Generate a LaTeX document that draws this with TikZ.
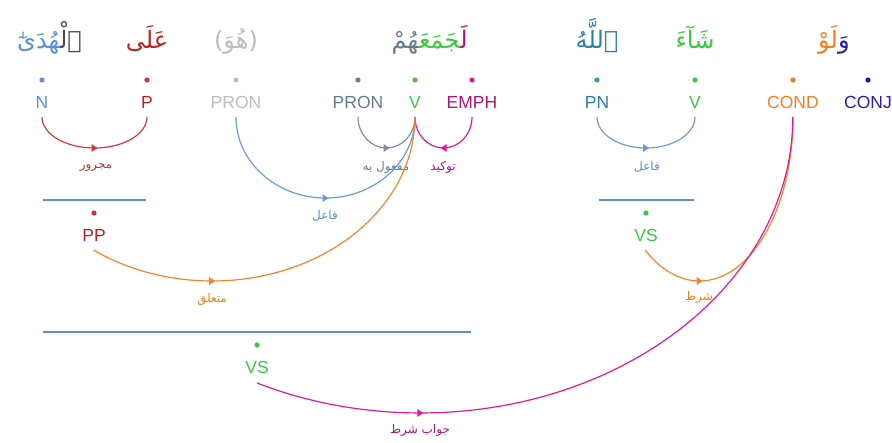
\documentclass[tikz,border=0pt]{standalone}
\usepackage{fontspec}
\setmainfont{Liberation Sans}
\newfontfamily\arabicfont[Script=Arabic]{DejaVu Sans}
\TeXXeTstate=1
\definecolor{cN}{HTML}{5B8FD6}
\definecolor{cDet}{HTML}{4D4D4D}
\definecolor{cP}{HTML}{B52424}
\definecolor{cPdot}{HTML}{D83030}
\definecolor{cPRONl}{HTML}{BDBDBD}
\definecolor{cPRON}{HTML}{667A90}
\definecolor{cV}{HTML}{3CC83C}
\definecolor{cEMPH}{HTML}{A8157E}
\definecolor{cEMPHdot}{HTML}{E0109F}
\definecolor{cPN}{HTML}{2B7FA8}
\definecolor{cPNdot}{HTML}{3399CC}
\definecolor{cCOND}{HTML}{F07F24}
\definecolor{cCONJ}{HTML}{2A1CB0}
\definecolor{cCONJdot}{HTML}{1F10D8}
\definecolor{cLine}{HTML}{5B8FDB}
\definecolor{aRed}{HTML}{D33A3A}
\definecolor{aSlate}{HTML}{7D8FA3}
\definecolor{aMag}{HTML}{E01AA0}
\definecolor{aBlue}{HTML}{6A9BE0}
\definecolor{aOrange}{HTML}{F2852C}
\definecolor{lRed}{HTML}{B03A3A}
\definecolor{lMag}{HTML}{B0127E}
\begin{document}
\begin{tikzpicture}[x=1pt,y=-1pt,
  tag/.style={font=\fontsize{17.5}{18}\selectfont, anchor=base, inner sep=0pt},
  dotnode/.style={circle, fill, inner sep=0pt, minimum size=5.2pt},
  word/.style={font=\arabicfont\fontsize{24}{28}\selectfont, inner sep=0pt, anchor=base},
  wseg/.style={font=\arabicfont\fontsize{24}{28}\selectfont, inner sep=0pt, anchor=base east},
  rel/.style={font=\arabicfont\fontsize{12}{14}\selectfont, inner sep=0pt},
  arcline/.style={line width=1.2pt},
  hline/.style={draw=cLine, line width=1.3pt},
  arrowR/.pic={\fill (3,0) -- (-3,4) -- (-3,-4) -- cycle;},
  arrowL/.pic={\fill (-3,0) -- (3,4) -- (3,-4) -- cycle;}
]
\useasboundingbox (0,0) rectangle (892,442);

% words (multi-coloured words are set as joined segments, right to left)
\node[wseg, cDet] (w1a) at (82,48) {\beginR ٱلْ^^^^200d\endR};
\node[wseg, cN] (w1b) at (w1a.base west) {\beginR ^^^^200dهُدَىٰٓ\endR};
\node[word, cP] (w2) at (147,48) {\beginR عَلَى\endR};
\node[word, cPRONl] (w3) at (236,48) {\beginR(هُوَ)\endR};
\node[wseg, cEMPH] (w4a) at (468,48) {\beginR لَ^^^^200d\endR};
\node[wseg, cV] (w4b) at (w4a.base west) {\beginR ^^^^200dجَمَعَ^^^^200d\endR};
\node[wseg, cPRON] (w4c) at (w4b.base west) {\beginR ^^^^200dهُمْ\endR};
\node[word, cPN] (w5) at (597,48) {\beginR ٱللَّهُ\endR};
\node[word, cV] (w6) at (695,48) {\beginR شَآءَ\endR};
\node[wseg, cCONJ] (w7a) at (850,48) {\beginR وَ\endR};
\node[wseg, cCOND] (w7b) at (w7a.base west) {\beginR لَوْ\endR};

% dots
\node[dotnode, cN] (dN) at (42,80) {};
\node[dotnode, cPdot] (dP) at (147,80) {};
\node[dotnode, cPRONl] (dPR1) at (236,80) {};
\node[dotnode, cPRON] (dPR2) at (358,80) {};
\node[dotnode, cV] (dV1) at (415,80) {};
\node[dotnode, cEMPHdot] (dE) at (472,80) {};
\node[dotnode, cPNdot] (dPN) at (597,80) {};
\node[dotnode, cV] (dV2) at (695,80) {};
\node[dotnode, cCOND] (dC) at (793,80) {};
\node[dotnode, cCONJdot] (dCJ) at (868,80) {};

% tags
\node[tag, cN] (tN) at (42,108) {N};
\node[tag, cP] (tP) at (147,108) {P};
\node[tag, cPRONl] (tPR1) at (236,108) {PRON};
\node[tag, cPRON] (tPR2) at (358,108) {PRON};
\node[tag, cV] (tV1) at (415,108) {V};
\node[tag, cEMPH] (tE) at (472,108) {EMPH};
\node[tag, cPN] (tPN) at (597,108) {PN};
\node[tag, cV] (tV2) at (695,108) {V};
\node[tag, cCOND] (tC) at (793,108) {COND};
\node[tag, cCONJ] (tCJ) at (868,108) {CONJ};

% arc end points
\coordinate (aN) at (42,117);
\coordinate (aPR1) at (236,117);
\coordinate (aPR2) at (358,117);
\coordinate (aV1) at (415,117);
\coordinate (aPN) at (597,117);
\coordinate (aC) at (793,117);

% phrase brackets
\draw[hline] (43,200) -- (146,200);
\draw[hline] (599,200) -- (694,200);
\draw[hline] (43,332) -- (471,332);

% phrase nodes
\node[dotnode, cPdot] (dPP) at (94,213) {};
\node[tag, cP] (tPP) at (94,241) {PP};
\node[dotnode, cV] (dVS1) at (646,213) {};
\node[tag, cV] (tVS1) at (646,241) {VS};
\node[dotnode, cV] (dVS2) at (257,345) {};
\node[tag, cV] (tVS2) at (257,373) {VS};
\coordinate (aPP) at (93.5,250);
\coordinate (aVS1) at (645,250);
\coordinate (aVS2) at (257,383);

% arcs
\draw[arcline, aRed] (aN) arc[start angle=180,end angle=90,x radius=52.5,y radius=31] coordinate (mRed)
  arc[start angle=90,end angle=0,x radius=52.5,y radius=31];
\pic[aRed] at (mRed) {arrowR};
\node[rel, lRed] (lb1) at (96,168) {\beginR مجرور\endR};

\draw[arcline, aSlate] (aPR2) arc[start angle=180,end angle=90,x radius=28.5,y radius=31] coordinate (mSlate)
  arc[start angle=90,end angle=0,x radius=28.5,y radius=31];
\pic[aSlate] at (mSlate) {arrowR};
\node[rel, cPRON] (lb2) at (386,167) {\beginR مفعول به\endR};

\draw[arcline, aMag] (aV1) arc[start angle=180,end angle=90,x radius=28.5,y radius=31] coordinate (mMag)
  arc[start angle=90,end angle=0,x radius=28.5,y radius=31];
\pic[aMag] at (mMag) {arrowL};
\node[rel, lMag] (lb3) at (443,167) {\beginR توكيد\endR};

\draw[arcline, aBlue] (aPR1) arc[start angle=180,end angle=90,x radius=89.5,y radius=81] coordinate (mBlue)
  arc[start angle=90,end angle=0,x radius=89.5,y radius=81];
\pic[aBlue] at (mBlue) {arrowR};
\node[rel, cN] (lb4) at (325,216) {\beginR فاعل\endR};

\draw[arcline, aBlue] (aPN) arc[start angle=180,end angle=90,x radius=49,y radius=31] coordinate (mBlue2)
  arc[start angle=90,end angle=0,x radius=49,y radius=31];
\pic[aBlue] at (mBlue2) {arrowR};
\node[rel, cN] (lb5) at (647,167) {\beginR فاعل\endR};

\draw[arcline, aOrange] (aPP) arc[start angle=125.8,end angle=90,x radius=202.8,y radius=164] coordinate (mOr)
  arc[start angle=90,end angle=0,x radius=202.8,y radius=164];
\pic[aOrange] at (mOr) {arrowR};
\node[rel, cCOND] (lb6) at (212,299) {\beginR متعلق\endR};

\draw[arcline, aOrange] (aVS1) arc[start angle=125.8,end angle=90,x radius=93.4,y radius=164] coordinate (mOr2)
  arc[start angle=90,end angle=0,x radius=93.4,y radius=164];
\pic[aOrange] at (mOr2) {arrowR};
\node[rel, cCOND] (lb7) at (699,297) {\beginR شرط\endR};

\draw[arcline, aMag] (aVS2) arc[start angle=116.0,end angle=90,x radius=372.5,y radius=296] coordinate (mMag2)
  arc[start angle=90,end angle=0,x radius=372.5,y radius=296];
\pic[aMag] at (mMag2) {arrowR};
\node[rel, lMag] (lb8) at (420,430) {\beginR جواب شرط\endR};
\end{tikzpicture}
\end{document}
